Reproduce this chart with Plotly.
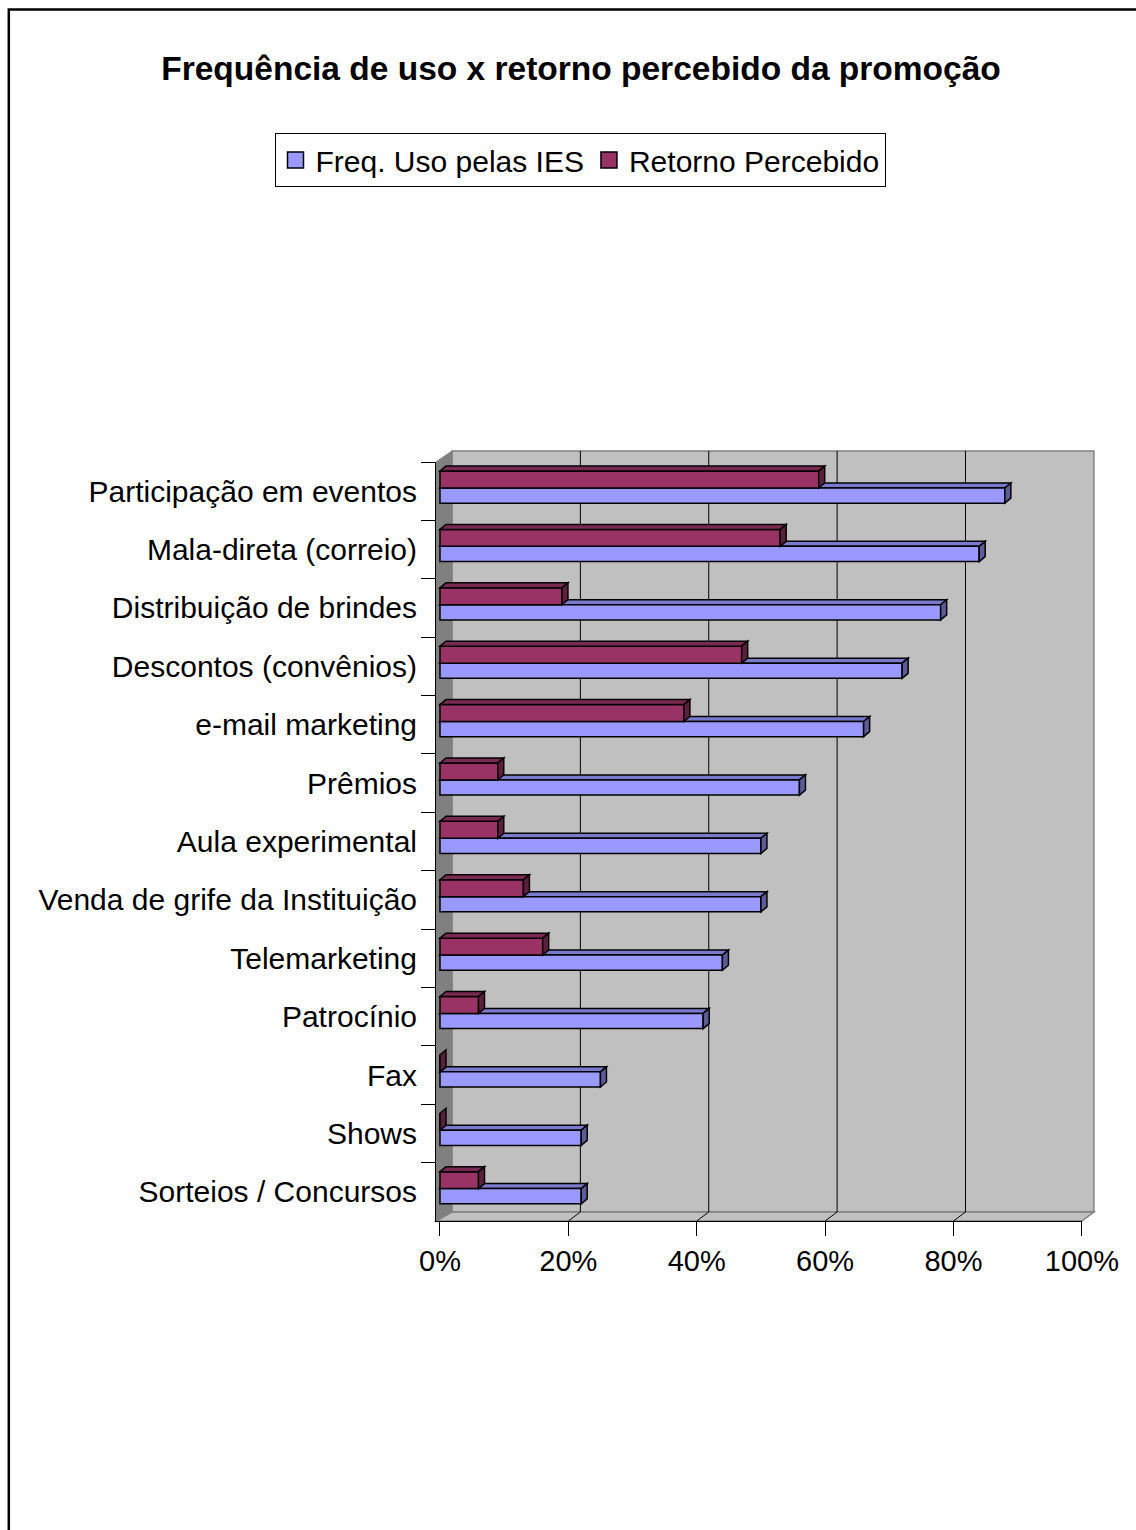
import plotly.graph_objects as go

# ---------------- data ----------------
categories = [
    "Participação em eventos", "Mala-direta (correio)", "Distribuição de brindes",
    "Descontos (convênios)", "e-mail marketing", "Prêmios", "Aula experimental",
    "Venda de grife da Instituição", "Telemarketing", "Patrocínio", "Fax", "Shows",
    "Sorteios / Concursos",
]
freq_uso = [88, 84, 78, 72, 66, 56, 50, 50, 44, 41, 25, 22, 22]
retorno = [59, 53, 19, 47, 38, 9, 9, 13, 16, 6, 0, 0, 6]
x_ticks = [0, 20, 40, 60, 80, 100]
x_tick_labels = ["0%", "20%", "40%", "60%", "80%", "100%"]
series_names = ["Freq. Uso pelas IES", "Retorno Percebido"]

# ---------------- styling / geometry ----------------
W, H = 1136, 1530
L, R, T, B = 436, 1082, 462, 1221
XMIN, XMAX = -0.62, 100.02
FONT = "Liberation Sans, Arial, Helvetica, sans-serif"
BLUE, BLUE_TOP, BLUE_SIDE = "#9999FF", "#7A7ACC", "#5C5C99"
RED, RED_TOP, RED_SIDE = "#993366", "#7A2952", "#5C1F3D"
DEPTH = 12          # wall depth in px
BDX, BDY = 6, 5     # bar depth in px

scale = (R - L) / (XMAX - XMIN)
band = (B - T) / len(categories)


def px(x):
    return (x - L) / (R - L)


def py(y):
    return (B - y) / (B - T)


fig = go.Figure()

fig.add_trace(go.Bar(
    orientation="h", y=categories, x=freq_uso, name=series_names[0],
    offset=-0.055, width=0.26, showlegend=False,
    marker=dict(color=BLUE, line=dict(color="black", width=1.5)),
))
fig.add_trace(go.Bar(
    orientation="h", y=categories, x=retorno, name=series_names[1],
    offset=-0.345, width=0.29, showlegend=False,
    marker=dict(color=RED, line=dict(color="black", width=1.5)),
))
# legend entries (larger square keys, as in the original)
for name, col in zip(series_names, [BLUE, RED]):
    fig.add_trace(go.Scatter(
        x=[None], y=[None], mode="markers", name=name, showlegend=True,
        marker=dict(symbol="square", size=16, color=col, line=dict(color="black", width=1.5)),
    ))

shapes = []
# outer frame
shapes.append(dict(type="rect", xref="paper", yref="paper",
                   x0=px(8.8), x1=px(1145), y0=py(9.5), y1=py(1545),
                   line=dict(color="black", width=2.5), fillcolor="rgba(0,0,0,0)", layer="below"))
# back wall
x100 = L + (100 - XMIN) * scale
shapes.append(dict(type="rect", xref="paper", yref="paper",
                   x0=px(L + 16), x1=px(x100 + DEPTH), y0=py(B - 9), y1=py(T - 11),
                   line=dict(color="#808080", width=1.5), fillcolor="#C0C0C0", layer="below"))
# left wall
shapes.append(dict(type="path", xref="paper", yref="paper",
                   path=f"M{px(L)},{py(T)} L{px(L+16)},{py(T-11)} L{px(L+16)},{py(B-9)} L{px(L)},{py(B)} Z",
                   line=dict(color="#808080", width=1), fillcolor="#808080", layer="below"))
# floor
shapes.append(dict(type="path", xref="paper", yref="paper",
                   path=f"M{px(L)},{py(B)} L{px(x100)},{py(B)} L{px(x100+DEPTH)},{py(B-9)} L{px(L+16)},{py(B-9)} Z",
                   line=dict(color="#808080", width=1.5), fillcolor="#C0C0C0", layer="below"))
# gridlines on the back wall and floor diagonals
for v in x_ticks:
    if 0 < v < 100:
        shapes.append(dict(type="line", xref="x", yref="paper", xsizemode="pixel", xanchor=v,
                           x0=DEPTH, x1=DEPTH, y0=py(B - 9), y1=py(T - 11),
                           line=dict(color="black", width=1), layer="below"))
    if v > 0:
        shapes.append(dict(type="line", xref="x", yref="paper", xsizemode="pixel", xanchor=v,
                           x0=0, x1=DEPTH, y0=0, y1=py(B - 9),
                           line=dict(color="black", width=1), layer="below"))

# 3D faces of bars
dxd = BDX / scale
dyd = BDY / band


def faces(i, val, off, wid, top_col, side_col, top_layer):
    yt = i + off
    yb = i + off + wid
    out = []
    if val > 0:
        out.append(dict(type="path", xref="x", yref="y",
                        path=f"M0,{yt} L{dxd},{yt-dyd} L{val+dxd},{yt-dyd} L{val},{yt} Z",
                        fillcolor=top_col, line=dict(color="black", width=1.5), layer=top_layer))
    out.append(dict(type="path", xref="x", yref="y",
                    path=f"M{val},{yt} L{val+dxd},{yt-dyd} L{val+dxd},{yb-dyd} L{val},{yb} Z",
                    fillcolor=side_col, line=dict(color="black", width=1.5), layer="above"))
    return out


for i, v in enumerate(freq_uso):
    shapes += faces(i, v, -0.055, 0.26, BLUE_TOP, BLUE_SIDE, "below")
for i, v in enumerate(retorno):
    shapes += faces(i, v, -0.345, 0.29, RED_TOP, RED_SIDE, "above")

fig.update_layout(
    width=W, height=H,
    margin=dict(l=L, r=W - R, t=T, b=H - B, pad=0),
    paper_bgcolor="white", plot_bgcolor="rgba(0,0,0,0)",
    barmode="overlay",
    font=dict(family=FONT, size=30, color="black"),
    title=dict(text="<b>Frequência de uso x retorno percebido da promoção</b>",
               x=581 / W, xref="container", xanchor="center",
               y=1 - 68 / H, yref="container", yanchor="middle",
               font=dict(family=FONT, size=33.5, color="black")),
    legend=dict(orientation="h", x=px(580), xanchor="center", y=py(133), yanchor="top",
                bordercolor="black", borderwidth=1, bgcolor="white",
                font=dict(family=FONT, size=30, color="black"), traceorder="normal",
                itemsizing="trace"),
    showlegend=True,
    shapes=shapes,
    xaxis=dict(range=[XMIN, XMAX], tickmode="array", tickvals=x_ticks, ticktext=x_tick_labels,
               showgrid=False, zeroline=False, showline=True, linecolor="black", linewidth=1,
               ticks="outside", ticklen=14, tickcolor="black",
               tickfont=dict(family=FONT, size=29, color="black")),
    yaxis=dict(type="category", categoryorder="array", categoryarray=categories,
               autorange="reversed", tickson="boundaries",
               showgrid=False, zeroline=False, showline=True, linecolor="black", linewidth=1,
               ticks="outside", ticklen=14, tickcolor="black", ticklabelstandoff=12,
               tickfont=dict(family=FONT, size=30, color="black")),
)

fig.write_html("out.html")
